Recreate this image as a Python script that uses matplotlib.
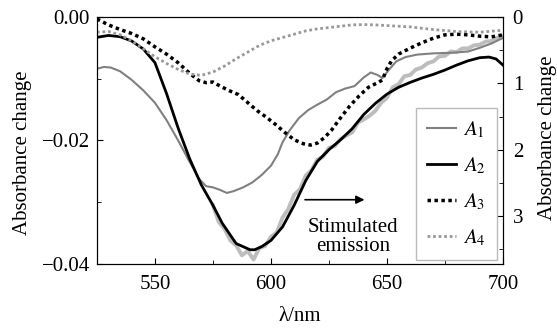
import matplotlib.pyplot as plt
import numpy as np

plt.rcParams['font.family'] = ['Liberation Serif', 'DejaVu Serif']
plt.rcParams['mathtext.fontset'] = 'stix'

# A1, A2 on the left axis (absorbance change)
a1_x = [525, 528, 531, 535, 540, 545, 550, 555, 560, 565, 569, 572, 575, 578, 581, 584,
        588, 592, 596, 600, 603, 605, 608, 612, 616, 620, 624, 628, 632, 636, 640, 643,
        646, 648, 651, 654, 658, 663, 670, 678, 685, 690, 695, 700]
a1_y = [-0.0084, -0.0081, -0.0082, -0.0088, -0.0102, -0.0119, -0.0139, -0.0167, -0.0200,
        -0.0235, -0.0262, -0.0274, -0.0276, -0.0280, -0.0285, -0.0282, -0.0276, -0.0268,
        -0.0256, -0.0241, -0.0222, -0.0203, -0.0184, -0.0164, -0.0151, -0.0142, -0.0134,
        -0.0122, -0.0116, -0.0112, -0.0098, -0.0090, -0.0094, -0.0099, -0.0085, -0.0072,
        -0.0065, -0.0061, -0.0059, -0.0058, -0.0056, -0.0050, -0.0043, -0.0034]

a2_x = [525, 530, 535, 540, 545, 550, 555, 557.5, 560, 565, 570, 575, 579, 585, 591, 593,
        596, 600, 605, 610, 615, 620, 625, 630, 635, 640, 645, 650, 655, 660, 665, 670,
        675, 680, 685, 690, 694, 697, 700]
a2_y = [-0.0033, -0.0030, -0.0032, -0.0039, -0.0052, -0.0074, -0.0124, -0.0152, -0.0180,
        -0.0230, -0.0272, -0.0305, -0.0334, -0.0367, -0.0377, -0.0377, -0.0372, -0.0362,
        -0.0340, -0.0305, -0.0265, -0.0234, -0.0215, -0.0199, -0.0181, -0.0158, -0.0140,
        -0.0125, -0.0114, -0.0106, -0.0099, -0.0093, -0.0086, -0.0078, -0.0071, -0.0066,
        -0.0065, -0.0068, -0.0078]

# stimulated emission trace (light grey, noisy)
se_x = [575, 577.5, 580, 582.5, 585, 587.5, 590, 592.5, 595, 597.5, 600, 602.5, 605,
        607.5, 610, 612.5, 615, 617.5, 620, 622.5, 625, 627.5, 630, 632.5, 635, 637.5,
        640, 642.5, 645, 647.5, 650, 652.5, 655, 657.5, 660, 662.5, 665, 667.5, 670,
        672.5, 675, 677.5, 680, 682.5, 685, 687.5, 690, 692.5, 695, 697.5, 700]
se_y = [-0.0305, -0.0332, -0.0343, -0.0362, -0.0370, -0.0386, -0.0379, -0.0393, -0.0374,
        -0.0371, -0.0356, -0.0349, -0.0325, -0.0311, -0.0288, -0.0279, -0.0257, -0.0248,
        -0.0231, -0.0226, -0.0212, -0.0209, -0.0198, -0.0192, -0.0187, -0.0171, -0.0166,
        -0.0160, -0.0152, -0.0139, -0.0131, -0.0114, -0.0109, -0.0096, -0.0094, -0.0085,
        -0.0082, -0.0075, -0.0072, -0.0064, -0.0063, -0.0056, -0.0057, -0.0051, -0.0051,
        -0.0046, -0.0045, -0.0040, -0.0039, -0.0034, -0.0031]

# A3, A4 on the right axis
a3_x = [525, 530, 535, 540, 545, 550, 555, 560, 565, 569, 572, 575, 578, 582, 586, 590,
        594, 598, 602, 606, 610, 614, 617, 620, 623, 626, 630, 634, 638, 642, 646, 648,
        650, 652, 655, 660, 665, 670, 675, 680, 685, 690, 695, 700]
a3_y = [0.03, 0.12, 0.19, 0.25, 0.33, 0.45, 0.56, 0.69, 0.85, 0.96, 0.99, 0.98, 1.04,
        1.11, 1.17, 1.29, 1.41, 1.51, 1.62, 1.74, 1.85, 1.91, 1.93, 1.90, 1.82, 1.71,
        1.52, 1.34, 1.19, 1.06, 0.99, 0.95, 0.78, 0.66, 0.56, 0.47, 0.39, 0.32, 0.27,
        0.26, 0.27, 0.29, 0.30, 0.27]

a4_x = [525, 530, 535, 540, 545, 550, 555, 560, 565, 570, 575, 580, 585, 590, 595, 600,
        605, 610, 615, 620, 625, 630, 635, 640, 645, 650, 660, 670, 680, 690, 700]
a4_y = [0.23, 0.22, 0.27, 0.36, 0.48, 0.60, 0.70, 0.79, 0.86, 0.88, 0.83, 0.74, 0.63,
        0.53, 0.43, 0.36, 0.31, 0.26, 0.21, 0.18, 0.16, 0.14, 0.12, 0.115, 0.12, 0.13,
        0.15, 0.19, 0.22, 0.23, 0.20]

fig = plt.figure(figsize=(5.57, 3.32), dpi=100)
ax = fig.add_axes([0.174, 0.205, 0.729, 0.744])
ax2 = ax.twinx()

fs = 15
ax.plot(se_x, se_y, color='#bdbdbd', lw=2.8)
l1, = ax.plot(a1_x, a1_y, color='#808080', lw=1.5)
l2, = ax.plot(a2_x, a2_y, color='black', lw=2)
l3, = ax2.plot(a3_x, a3_y, color='black', lw=2.5, ls=(0, (1, 1)))
l4, = ax2.plot(a4_x, a4_y, color='#999999', lw=2, ls=(0, (1, 1)))

ax.set_xlim(525, 700)
ax.set_ylim(-0.04, 0.0)
ax2.set_ylim(3.72, 0)

ax.set_xticks([550, 600, 650, 700])
ax.set_xticks([575, 625, 675], minor=True)
ax.set_yticks([0.0, -0.02, -0.04])
ax.set_yticklabels(['0.00', '\u22120.02', '\u22120.04'])
ax.set_yticks([-0.01, -0.03], minor=True)
ax2.set_yticks([0, 1, 2, 3])
ax2.set_yticks([0.5, 1.5, 2.5, 3.5], minor=True)

for a in (ax, ax2):
    a.tick_params(which='both', direction='in', labelsize=fs, length=4)
    a.tick_params(which='minor', length=3)
ax.tick_params(axis='x', which='both', pad=8)
ax.tick_params(axis='y', which='both', pad=5)
ax2.tick_params(axis='y', which='both', pad=7)

ax.set_xlabel('\u03bb/nm', fontsize=fs, labelpad=9)
ax.set_ylabel('Absorbance change', fontsize=fs)
ax2.set_ylabel('Absorbance change', fontsize=fs)
ax.yaxis.set_label_coords(-0.16, 0.45)
ax2.yaxis.set_label_coords(1.087, 0.51)

ax.annotate('', xy=(641.5, -0.0296), xytext=(613.5, -0.0296),
            arrowprops=dict(arrowstyle='-|>', color='black', lw=1.2,
                            mutation_scale=12))
ax.text(635.5, -0.0356, 'Stimulated\nemission', fontsize=fs, ha='center', va='center',
        linespacing=1.0)

leg = ax2.legend([l1, l2, l3, l4], ['$A_1$', '$A_2$', '$A_3$', '$A_4$'],
                 loc='lower right', bbox_to_anchor=(0.985, 0.015), borderaxespad=0,
                 fontsize=fs, frameon=True, fancybox=False, handlelength=1.4,
                 labelspacing=0.75, borderpad=0.55, handletextpad=0.3)
leg.get_frame().set_edgecolor('#aaaaaa')
leg.get_frame().set_linewidth(1.0)

fig.savefig('out.png', dpi=100)
